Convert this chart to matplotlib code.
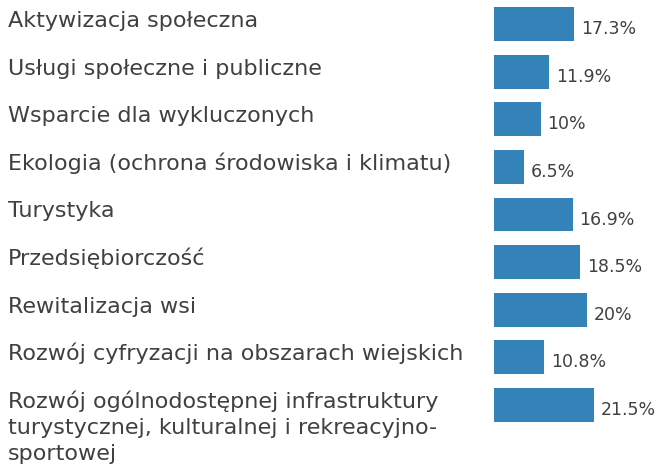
import matplotlib.pyplot as plt

kategorie = [
    "Aktywizacja społeczna",
    "Usługi społeczne i publiczne",
    "Wsparcie dla wykluczonych",
    "Ekologia (ochrona środowiska i klimatu)",
    "Turystyka",
    "Przedsiębiorczość",
    "Rewitalizacja wsi",
    "Rozwój cyfryzacji na obszarach wiejskich",
    "Rozwój ogólnodostępnej infrastruktury\nturystycznej, kulturalnej i rekreacyjno-\nsportowej",
]
wartosci = [17.3, 11.9, 10, 6.5, 16.9, 18.5, 20, 10.8, 21.5]
etykiety = ["17.3%", "11.9%", "10%", "6.5%", "16.9%", "18.5%", "20%", "10.8%", "21.5%"]

kolor_slupka = "#3383b8"
kolor_tekstu = "#404040"
W, H = 661, 469
krok = 47.6       # odstep miedzy wierszami w px
px_na_proc = 4.65

fig = plt.figure(figsize=(W / 100, H / 100), dpi=100)
ax = fig.add_axes([494 / W, 1 - 428.8 / H, 1 - 494 / W, 428.6 / H])

pozycje = list(range(len(kategorie)))
ax.barh(pozycje, wartosci, height=0.71, color=kolor_slupka)
ax.set_xlim(0, (W - 494) / px_na_proc)
ax.set_ylim(len(kategorie) - 0.5, -0.5)
ax.axis("off")

for y, v, et in zip(pozycje, wartosci, etykiety):
    ax.text(v + 7 / px_na_proc, y + 10 / krok, et, va="baseline", ha="left",
            fontsize=12.5, family="DejaVu Sans", color=kolor_tekstu)

for y, k in zip(pozycje, kategorie):
    # kazda linia osobno, zeby pierwsza byla na wysokosci slupka
    for i, linia in enumerate(k.split("\n")):
        fy = 1 - (24 + krok * y + 3 + 26 * i) / H
        fig.text(8 / W, fy, linia, va="baseline", ha="left", fontsize=16,
                 family="DejaVu Sans", color=kolor_tekstu)

fig.savefig("out.png", dpi=100, facecolor="white")
